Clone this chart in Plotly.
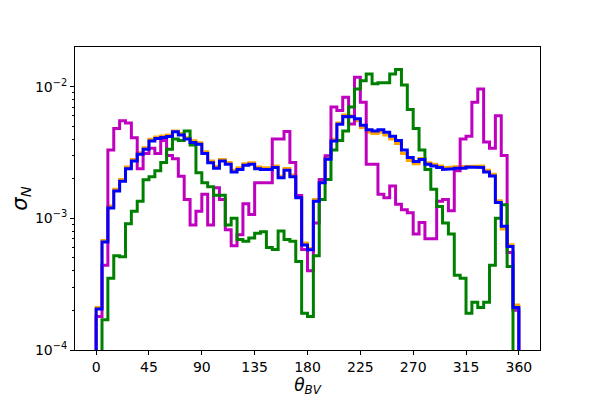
import numpy as np
import plotly.graph_objects as go

# 5 degree bins over 0..360
bin_edges = np.arange(0, 365, 5)

orange_vals = [
    0.00021, 0.00068, 0.00124, 0.00166, 0.00197, 0.00245, 0.0028, 0.00315, 0.00344, 0.00398,
    0.00414, 0.00422, 0.0043, 0.0046, 0.0044, 0.0041, 0.00388, 0.00375, 0.0032, 0.00272,
    0.00247, 0.0028, 0.00265, 0.00232, 0.00242, 0.0026, 0.00264, 0.00245, 0.00242, 0.00242,
    0.0025, 0.00209, 0.00239, 0.00213, 0.00147, 0.00065, 0.00059, 0.00139, 0.00191, 0.00289,
    0.00398, 0.0053, 0.0061, 0.0060, 0.0055, 0.0049, 0.0045, 0.0044, 0.0045, 0.0043,
    0.0040, 0.0037, 0.0031, 0.00275, 0.0026, 0.00285, 0.00264, 0.00257, 0.0025, 0.00242,
    0.00245, 0.00247, 0.00247, 0.0025, 0.0025, 0.0025, 0.00232, 0.00216, 0.00136, 0.00083,
    0.00063, 0.00022,
]
magenta_vals = [
    0.00018, 0.00044, 0.0033, 0.0048, 0.0055, 0.0053, 0.0041, 0.00238, 0.0031, 0.0034,
    0.0031, 0.0039, 0.0030, 0.00284, 0.00209, 0.00139, 0.00089, 0.00113, 0.00152, 0.00089,
    0.00171, 0.00139, 0.00082, 0.00062, 0.00075, 0.00129, 0.00107, 0.00186, 0.00186, 0.00186,
    0.0040, 0.0040, 0.00456, 0.00265, 0.00149, 0.00058, 0.00040, 0.00092, 0.00197, 0.00298,
    0.0070, 0.0066, 0.0083, 0.0052, 0.0118, 0.0076, 0.00257, 0.00257, 0.00152, 0.00143,
    0.00176, 0.00128, 0.00116, 0.0011, 0.00076, 0.00093, 0.0007, 0.0007, 0.00135, 0.00139,
    0.00114, 0.0023, 0.0040, 0.0042, 0.0076, 0.0096, 0.0038, 0.0034, 0.0060, 0.0030,
    0.00055, 0.0002,
]
green_vals = [
    0, 0.00017, 0.00035, 0.00052, 0.00051, 0.00091, 0.00113, 0.00135, 0.00196, 0.00207,
    0.0023, 0.00265, 0.00334, 0.0040, 0.0039, 0.0046, 0.0036, 0.00222, 0.00186, 0.00174,
    0.0015, 0.0015, 0.00089, 0.0010, 0.00069, 0.00067, 0.00071, 0.00077, 0.00079, 0.0006,
    0.00058, 0.0008, 0.00069, 0.00067, 0.00047, 0.00019, 0.00018, 0.00052, 0.00139, 0.00197,
    0.0033, 0.0039, 0.0046, 0.0070, 0.0096, 0.0111, 0.0125, 0.0105, 0.0107, 0.0107,
    0.0125, 0.0135, 0.0103, 0.0067, 0.0048, 0.0033, 0.00235, 0.00166, 0.00123, 0.00092,
    0.00076, 0.00037, 0.00035, 0.00019, 0.00023, 0.00021, 0.00023, 0.00044, 0.0010, 0.00127,
    0.00043, 0,
]
blue_vals = [
    0.000205, 0.00066, 0.0012, 0.00161, 0.00191, 0.00238, 0.00272, 0.00306, 0.00334, 0.00387,
    0.00404, 0.00411, 0.00418, 0.00455, 0.0043, 0.0040, 0.00377, 0.00365, 0.0031, 0.00264,
    0.0024, 0.00272, 0.00257, 0.00225, 0.00235, 0.00253, 0.00257, 0.00238, 0.00235, 0.00235,
    0.00243, 0.00203, 0.00232, 0.00207, 0.00143, 0.000628, 0.000577, 0.00135, 0.00186, 0.00281,
    0.00387, 0.00519, 0.00594, 0.0059, 0.0057, 0.0051, 0.0047, 0.0046, 0.0047, 0.0045,
    0.0042, 0.0039, 0.0033, 0.0029, 0.0027, 0.0028, 0.00257, 0.0025, 0.00243, 0.00235,
    0.00238, 0.0024, 0.0024, 0.00245, 0.00243, 0.00243, 0.00225, 0.0021, 0.00132, 0.00087,
    0.00061, 0.00021,
]

x_ticks = [0, 45, 90, 135, 180, 225, 270, 315, 360]
y_ticks = [1e-4, 1e-3, 1e-2]
y_ticktext = ["10<sup>\u22124</sup>", "10<sup>\u22123</sup>", "10<sup>\u22122</sup>"]

FLOOR = 1e-6  # below the axis range, so empty bins run off the bottom like mpl step


def step_xy(vals):
    xs = [bin_edges[0]]
    ys = [FLOOR]
    for i, v in enumerate(vals):
        v = v if v > 0 else FLOOR
        xs += [bin_edges[i], bin_edges[i + 1]]
        ys += [v, v]
    xs.append(bin_edges[-1])
    ys.append(FLOOR)
    return xs, ys


fig = go.Figure()
for vals, color in [(orange_vals, "#FFA500"), (magenta_vals, "#BF00BF"),
                    (green_vals, "#008000"), (blue_vals, "#0000FF")]:
    xs, ys = step_xy(vals)
    fig.add_trace(go.Scatter(x=xs, y=ys, mode="lines", showlegend=False,
                             line=dict(color=color, width=3)))

minor_vals = [m * 10.0 ** e for e in (-4, -3, -2) for m in range(2, 10) if m * 10.0 ** e < 0.02]

fig.update_xaxes(
    range=[-18, 378], tickvals=x_ticks, ticks="outside", ticklen=4,
    showgrid=False, zeroline=False, showline=True, linecolor="black",
    linewidth=1, mirror=True, tickcolor="black", automargin=False,
    tickfont=dict(size=14, color="black"),
    title=dict(text="<i>θ<sub>BV</sub></i>", font=dict(size=17, color="black"), standoff=2),
)
fig.update_yaxes(
    type="log", range=[-4, np.log10(0.02)], tickvals=y_ticks, ticktext=y_ticktext,
    ticks="outside", ticklen=4, showgrid=False, zeroline=False, showline=True,
    linecolor="black", linewidth=1, mirror=True, tickcolor="black", automargin=False,
    tickfont=dict(size=14, color="black"),
    minor=dict(tickvals=minor_vals, ticks="outside", ticklen=2, tickcolor="black", showgrid=False),
    title=dict(text="<i>σ<sub>N</sub></i>", font=dict(size=21, color="black"), standoff=6),
)
# page body has an 8px margin, so the figure is drawn 8px smaller and offset
fig.update_layout(
    width=592, height=392,
    margin=dict(l=67, r=60, t=39, b=50),
    paper_bgcolor="white", plot_bgcolor="white",
    font=dict(family="DejaVu Sans"),
)

fig.write_html("out.html")
